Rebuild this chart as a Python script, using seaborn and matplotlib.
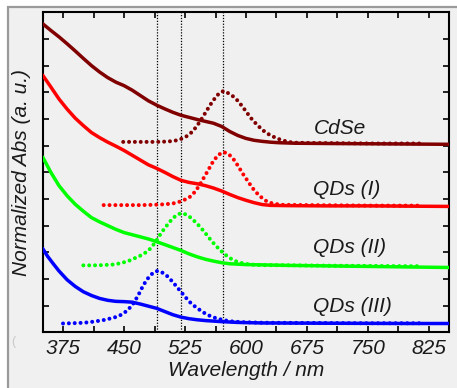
import numpy as np
import pandas as pd
import matplotlib
matplotlib.use("Agg")
import matplotlib.pyplot as plt
from matplotlib.patches import Rectangle
import seaborn as sns

# ---- absorption spectra (offset, normalized) ----
cdse_abs_wl = [350, 360, 370, 380, 390, 400, 410, 420, 430, 440, 450, 460, 470, 480,
               490, 500, 510, 520, 530, 540, 550, 560, 570, 580, 590, 600, 610, 620,
               630, 640, 660, 700, 750, 800, 850]
cdse_abs = [11.57, 11.32, 11.08, 10.82, 10.55, 10.27, 10.0, 9.76, 9.55, 9.38, 9.25, 9.08,
            8.88, 8.68, 8.52, 8.38, 8.25, 8.14, 8.06, 7.98, 7.91, 7.84, 7.72, 7.53, 7.38,
            7.27, 7.2, 7.16, 7.13, 7.11, 7.09, 7.08, 7.07, 7.06, 7.05]

qd1_abs_wl = [350, 360, 370, 380, 390, 400, 410, 420, 430, 440, 450, 460, 470, 480, 490,
              500, 510, 520, 530, 540, 550, 560, 570, 580, 590, 600, 610, 620, 630, 650,
              700, 750, 800, 850]
qd1_abs = [9.64, 9.2, 8.75, 8.37, 8.03, 7.75, 7.49, 7.3, 7.13, 6.98, 6.82, 6.64, 6.46,
           6.28, 6.15, 6.0, 5.84, 5.7, 5.62, 5.57, 5.5, 5.41, 5.3, 5.17, 5.05, 4.95, 4.86,
           4.79, 4.76, 4.75, 4.74, 4.74, 4.73, 4.72]

qd2_abs_wl = [350, 360, 370, 380, 390, 400, 410, 420, 430, 440, 450, 460, 470, 480, 490,
              500, 510, 520, 530, 540, 550, 560, 570, 580, 600, 650, 700, 750, 800, 850]
qd2_abs = [6.57, 6.0, 5.5, 5.12, 4.8, 4.54, 4.3, 4.14, 4.0, 3.86, 3.74, 3.66, 3.58, 3.5,
           3.4, 3.29, 3.18, 3.07, 2.94, 2.83, 2.74, 2.67, 2.61, 2.57, 2.54, 2.51, 2.49,
           2.47, 2.45, 2.43]

qd3_abs_wl = [350, 356, 363, 370, 380, 390, 400, 410, 420, 430, 440, 450, 460, 470, 480,
              490, 500, 510, 520, 530, 540, 550, 560, 570, 590, 620, 700, 800, 850]
qd3_abs = [3.14, 2.85, 2.57, 2.3, 1.97, 1.72, 1.52, 1.38, 1.27, 1.2, 1.16, 1.15, 1.13,
           1.06, 0.98, 0.9, 0.78, 0.66, 0.57, 0.51, 0.47, 0.44, 0.42, 0.4, 0.37, 0.35,
           0.34, 0.33, 0.33]

# ---- photoluminescence spectra (offset, normalized) ----
cdse_pl_wl = [449, 460, 470, 480, 490, 500, 510, 518, 526, 534, 540, 546, 552, 558, 564,
              569, 573, 578, 584, 590, 596, 602, 608, 615, 621, 627, 634, 640, 646, 652,
              660, 680, 720, 760, 800, 815]
cdse_pl = [7.14, 7.14, 7.14, 7.14, 7.14, 7.15, 7.17, 7.22, 7.33, 7.52, 7.75, 8.03, 8.33,
           8.62, 8.87, 9.01, 9.05, 8.97, 8.85, 8.68, 8.45, 8.2, 7.96, 7.74, 7.57, 7.44,
           7.33, 7.25, 7.19, 7.14, 7.11, 7.1, 7.09, 7.08, 7.08, 7.08]

qd1_pl_wl = [425, 440, 455, 470, 485, 500, 510, 520, 530, 538, 544, 552, 560, 566, 572,
             578, 584, 590, 596, 602, 608, 614, 620, 626, 634, 645, 680, 720, 760, 800, 812]
qd1_pl = [4.77, 4.77, 4.77, 4.77, 4.78, 4.8, 4.83, 4.91, 5.05, 5.29, 5.58, 6.0, 6.43,
          6.65, 6.76, 6.7, 6.52, 6.25, 5.95, 5.68, 5.41, 5.2, 5.03, 4.9, 4.82, 4.78,
          4.77, 4.76, 4.75, 4.75, 4.75]

qd2_pl_wl = [400, 412, 424, 436, 446, 456, 464, 472, 480, 488, 496, 503, 510, 516, 521,
             526, 532, 538, 544, 550, 557, 563, 569, 575, 581, 587, 594, 605, 620, 660,
             700, 750, 800, 815]
qd2_pl = [2.51, 2.51, 2.52, 2.54, 2.59, 2.68, 2.79, 2.9, 3.06, 3.35, 3.74, 4.02, 4.28,
          4.42, 4.47, 4.42, 4.3, 4.13, 3.94, 3.72, 3.45, 3.24, 3.06, 2.9, 2.77, 2.67,
          2.6, 2.54, 2.52, 2.51, 2.5, 2.49, 2.48, 2.48]

qd3_pl_wl = [375, 385, 395, 405, 415, 425, 435, 443, 450, 456, 462, 468, 474, 480, 486,
             491, 496, 502, 508, 514, 520, 526, 532, 538, 544, 550, 556, 563, 572, 582,
             595, 620, 680, 750, 815]
qd3_pl = [0.33, 0.34, 0.35, 0.37, 0.41, 0.46, 0.53, 0.6, 0.72, 0.88, 1.1, 1.42, 1.78,
          2.05, 2.24, 2.3, 2.26, 2.14, 1.95, 1.74, 1.52, 1.3, 1.1, 0.95, 0.82, 0.7, 0.61,
          0.53, 0.46, 0.41, 0.38, 0.36, 0.35, 0.34, 0.34]

# PL peak positions marked by dotted guides
peak_lines = [490, 520, 572]

sample_names = ["CdSe", "QDs (I)", "QDs (II)", "QDs (III)"]
sample_colors = ["#800000", "#ff0000", "#00ff00", "#0000ff"]
label_wl = 683
label_y = [7.45, 5.16, 2.97, 0.76]

x_ticks = [375, 450, 525, 600, 675, 750, 825]
x_minor = [412.5, 487.5, 562.5, 637.5, 712.5, 787.5]

abs_sets = [(cdse_abs_wl, cdse_abs), (qd1_abs_wl, qd1_abs),
            (qd2_abs_wl, qd2_abs), (qd3_abs_wl, qd3_abs)]
pl_sets = [(cdse_pl_wl, cdse_pl), (qd1_pl_wl, qd1_pl),
           (qd2_pl_wl, qd2_pl), (qd3_pl_wl, qd3_pl)]

sns.set_theme(style="ticks")
plt.rcParams["font.family"] = ["Liberation Sans", "DejaVu Sans"]

fig = plt.figure(figsize=(4.57, 3.88), dpi=100, facecolor="white")
# grey panel with a thin frame behind the plot
panel = Rectangle((8 / 457, -0.05), 1.1, 1 - 7 / 388 + 0.05,
                  transform=fig.transFigure, facecolor="#f0f0f0",
                  edgecolor="#9a9a9a", linewidth=1.6, zorder=-10)
fig.add_artist(panel)
ax = fig.add_axes([42.7 / 457, 1 - 332.3 / 388, (449.3 - 42.7) / 457, 320 / 388])
ax.set_zorder(1)
ax.set_facecolor("#f0f0f0")

for wl in peak_lines:
    ax.axvline(wl, color="black", lw=0.9, ls=(0, (1, 1.3)), zorder=1)

for (wl, val), col in zip(abs_sets, sample_colors):
    df = pd.DataFrame({"wl": wl, "val": val})
    sns.lineplot(data=df, x="wl", y="val", ax=ax, color=col, lw=2.5,
                 sort=False, estimator=None, zorder=3)

for (wl, val), col in zip(pl_sets, sample_colors):
    df = pd.DataFrame({"wl": wl, "val": val})
    sns.lineplot(data=df, x="wl", y="val", ax=ax, color=col, lw=2.9,
                 linestyle=(0, (0.001, 1.45)), dash_capstyle="round",
                 sort=False, estimator=None, zorder=4)

for name, yv in zip(sample_names, label_y):
    ax.text(label_wl, yv, name, fontsize=15, fontstyle="italic",
            ha="left", va="baseline", color="#1a1a1a", zorder=5)

ax.set_xlim(350, 850)
ax.set_ylim(0, 12)
ax.set_xticks(x_ticks)
ax.set_xticks(x_minor, minor=True)
ax.set_yticks(range(1, 12))
ax.set_yticklabels([])
ax.tick_params(axis="both", which="both", direction="in", length=4, width=1.2,
               top=True, right=True, color="black")
ax.tick_params(axis="x", which="major", labelsize=15, pad=5, labelcolor="#1a1a1a")
for lab in ax.get_xticklabels():
    lab.set_fontstyle("italic")
for sp in ax.spines.values():
    sp.set_linewidth(1.5)
    sp.set_color("black")

ax.set_xlabel("Wavelength / nm", fontsize=15, fontstyle="italic", color="#1a1a1a",
              labelpad=2)
ax.set_ylabel("Normalized Abs (a. u.)", fontsize=15, fontstyle="italic",
              color="#1a1a1a", labelpad=5)

fig.text(11 / 457, 1 - 342 / 388, "(", fontsize=9, color="#c8c8c8",
         ha="left", va="center")

fig.savefig("out.png", dpi=100, facecolor=fig.get_facecolor())
